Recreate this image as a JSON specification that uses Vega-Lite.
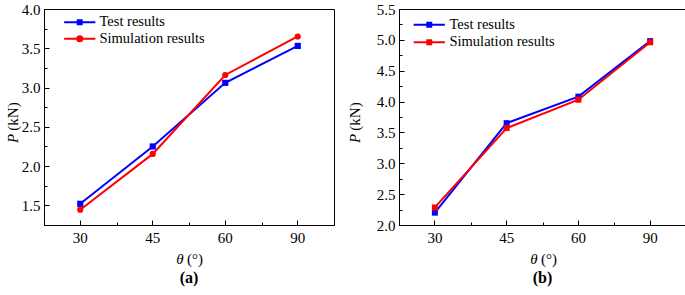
{
  "$schema": "https://vega.github.io/schema/vega-lite/v6.json",
  "background": "white",
  "padding": {"left": 4, "top": 1, "right": 0, "bottom": 0},
  "spacing": 12,
  "config": {
    "view": {"stroke": "black", "strokeWidth": 1},
    "axis": {
      "grid": false,
      "domainColor": "black",
      "domainWidth": 1,
      "tickColor": "black",
      "tickWidth": 1,
      "labelFont": "Liberation Serif",
      "labelFontSize": 15,
      "labelColor": "black",
      "titleFont": "Liberation Serif",
      "titleFontSize": 15,
      "titleFontWeight": "normal",
      "titleColor": "black",
      "titleAlign": "center",
      "titleBaseline": "middle"
    },
    "legend": {
      "labelFont": "Liberation Serif",
      "labelFontSize": 14.5,
      "labelColor": "black",
      "title": null,
      "orient": "none",
      "padding": 0,
      "symbolSize": 144,
      "symbolStrokeWidth": 2,
      "symbolOpacity": 1
    },
    "title": {"font": "Liberation Serif", "fontSize": 16, "fontWeight": "bold", "color": "black"}
  },
  "hconcat": [
    {
      "width": 290,
      "height": 216,
      "title": {"text": "(a)", "orient": "bottom", "frame": "group", "anchor": "middle", "offset": 4},
      "data": {"values": [
        {"theta": "30", "series": "Test results", "P": 1.52},
        {"theta": "45", "series": "Test results", "P": 2.25},
        {"theta": "60", "series": "Test results", "P": 3.06},
        {"theta": "90", "series": "Test results", "P": 3.53},
        {"theta": "30", "series": "Simulation results", "P": 1.445},
        {"theta": "45", "series": "Simulation results", "P": 2.155},
        {"theta": "60", "series": "Simulation results", "P": 3.16},
        {"theta": "90", "series": "Simulation results", "P": 3.65}
      ]},
      "resolve": {"axis": {"x": "independent", "y": "independent"}, "scale": {"shape": "independent", "color": "independent"}},
      "layer": [
        {
          "mark": {"type": "line", "strokeWidth": 2},
          "encoding": {
            "x": {"field": "theta", "type": "ordinal", "sort": ["30", "45", "60", "90"],
              "scale": {"type": "band", "paddingInner": 0, "paddingOuter": 0},
              "axis": {"orient": "bottom", "title": "θ", "titleFontStyle": "italic", "titleX": 135.5, "titleY": 33,
                "labelAngle": 0, "tickSize": -5, "labelPadding": 10}},
            "y": {"field": "P", "type": "quantitative",
              "scale": {"domain": [1.25, 4.0], "nice": false, "zero": false},
              "axis": {"orient": "left", "title": "P", "titleFontStyle": "italic", "titleX": -32, "titleY": 129,
                "values": [1.5, 2.0, 2.5, 3.0, 3.5, 4.0], "format": ".1f", "tickSize": -5, "labelPadding": 9}},
            "color": {"field": "series", "type": "nominal",
              "scale": {"domain": ["Test results", "Simulation results"], "range": ["#0000FF", "#FF0000"]},
              "legend": null}
          }
        },
        {
          "mark": {"type": "point", "filled": true, "opacity": 1, "size": 38},
          "encoding": {
            "x": {"field": "theta", "type": "ordinal", "sort": ["30", "45", "60", "90"],
              "axis": {"orient": "bottom", "title": "(°)", "titleFontStyle": "normal", "titleX": 150.5, "titleY": 33,
                "labels": false, "domain": false, "tickBand": "extent", "tickSize": -3}},
            "y": {"field": "P", "type": "quantitative",
              "axis": {"orient": "left", "title": "(kN)", "titleFontStyle": "normal", "titleX": -32, "titleY": 107,
                "labels": false, "domain": false, "values": [1.75, 2.25, 2.75, 3.25, 3.75], "tickSize": -3}},
            "color": {"field": "series", "type": "nominal",
              "scale": {"domain": ["Test results", "Simulation results"], "range": ["#0000FF", "#FF0000"]},
              "legend": null},
            "shape": {"field": "series", "type": "nominal",
              "scale": {"domain": ["Test results", "Simulation results"], "range": ["square", "circle"]},
              "legend": null}
          }
        },
        {
          "mark": {"type": "point", "filled": false, "opacity": 0, "strokeWidth": 2, "size": 144},
          "encoding": {
            "x": {"field": "theta", "type": "ordinal", "sort": ["30", "45", "60", "90"], "axis": null},
            "y": {"field": "P", "type": "quantitative", "axis": null},
            "color": {"field": "series", "type": "nominal",
              "scale": {"domain": ["Test results", "Simulation results"], "range": ["#0000FF", "#FF0000"]},
              "legend": {"legendX": 28.5, "legendY": 6, "rowPadding": 1.5, "labelOffset": 12.5}},
            "shape": {"field": "series", "type": "nominal",
              "scale": {"domain": ["Test results", "Simulation results"],
                "range": ["M-2.6,0H2.6M-0.33,-0.33H0.33V0.33H-0.33ZM-0.1,-0.1H0.1V0.1H-0.1Z",
                          "M-2.6,0H2.6M0.42,0A0.42,0.42,0,1,1,-0.42,0A0.42,0.42,0,1,1,0.42,0ZM0.12,0A0.12,0.12,0,1,1,-0.12,0A0.12,0.12,0,1,1,0.12,0Z"]},
              "legend": {"legendX": 28.5, "legendY": 6, "rowPadding": 1.5, "labelOffset": 12.5}}
          }
        }
      ]
    },
    {
      "width": 287,
      "height": 216,
      "title": {"text": "(b)", "orient": "bottom", "frame": "group", "anchor": "middle", "offset": 4},
      "data": {"values": [
        {"theta": "30", "series": "Test results", "P": 2.2},
        {"theta": "45", "series": "Test results", "P": 3.65},
        {"theta": "60", "series": "Test results", "P": 4.08},
        {"theta": "90", "series": "Test results", "P": 4.98},
        {"theta": "30", "series": "Simulation results", "P": 2.285},
        {"theta": "45", "series": "Simulation results", "P": 3.57},
        {"theta": "60", "series": "Simulation results", "P": 4.03},
        {"theta": "90", "series": "Simulation results", "P": 4.96}
      ]},
      "resolve": {"axis": {"x": "independent", "y": "independent"}, "scale": {"color": "independent"}},
      "layer": [
        {
          "mark": {"type": "line", "strokeWidth": 2},
          "encoding": {
            "x": {"field": "theta", "type": "ordinal", "sort": ["30", "45", "60", "90"],
              "scale": {"type": "band", "paddingInner": 0, "paddingOuter": 0},
              "axis": {"orient": "bottom", "title": "θ", "titleFontStyle": "italic", "titleX": 134.5, "titleY": 33,
                "labelAngle": 0, "tickSize": -5, "labelPadding": 10}},
            "y": {"field": "P", "type": "quantitative",
              "scale": {"domain": [2.0, 5.5], "nice": false, "zero": false},
              "axis": {"orient": "left", "title": "P", "titleFontStyle": "italic", "titleX": -44.5, "titleY": 129,
                "values": [2.0, 2.5, 3.0, 3.5, 4.0, 4.5, 5.0, 5.5], "format": ".1f", "tickSize": -5, "labelPadding": 9}},
            "color": {"field": "series", "type": "nominal",
              "scale": {"domain": ["Test results", "Simulation results"], "range": ["#0000FF", "#FF0000"]},
              "legend": null}
          }
        },
        {
          "mark": {"type": "point", "filled": true, "opacity": 1, "size": 36, "shape": "square"},
          "encoding": {
            "x": {"field": "theta", "type": "ordinal", "sort": ["30", "45", "60", "90"],
              "axis": {"orient": "bottom", "title": "(°)", "titleFontStyle": "normal", "titleX": 149.5, "titleY": 33,
                "labels": false, "domain": false, "tickBand": "extent", "tickSize": -3}},
            "y": {"field": "P", "type": "quantitative",
              "axis": {"orient": "left", "title": "(kN)", "titleFontStyle": "normal", "titleX": -44.5, "titleY": 107,
                "labels": false, "domain": false, "values": [2.25, 2.75, 3.25, 3.75, 4.25, 4.75, 5.25], "tickSize": -3}},
            "color": {"field": "series", "type": "nominal",
              "scale": {"domain": ["Test results", "Simulation results"], "range": ["#0000FF", "#FF0000"]},
              "legend": null}
          }
        },
        {
          "mark": {"type": "point", "filled": false, "opacity": 0, "strokeWidth": 2, "size": 144,
            "shape": "M-2.6,0H2.6M-0.33,-0.33H0.33V0.33H-0.33ZM-0.1,-0.1H0.1V0.1H-0.1Z"},
          "encoding": {
            "x": {"field": "theta", "type": "ordinal", "sort": ["30", "45", "60", "90"], "axis": null},
            "y": {"field": "P", "type": "quantitative", "axis": null},
            "color": {"field": "series", "type": "nominal",
              "scale": {"domain": ["Test results", "Simulation results"], "range": ["#0000FF", "#FF0000"]},
              "legend": {"legendX": 23, "legendY": 8.5, "rowPadding": 2.5, "labelOffset": 13}}
          }
        }
      ]
    }
  ]
}
